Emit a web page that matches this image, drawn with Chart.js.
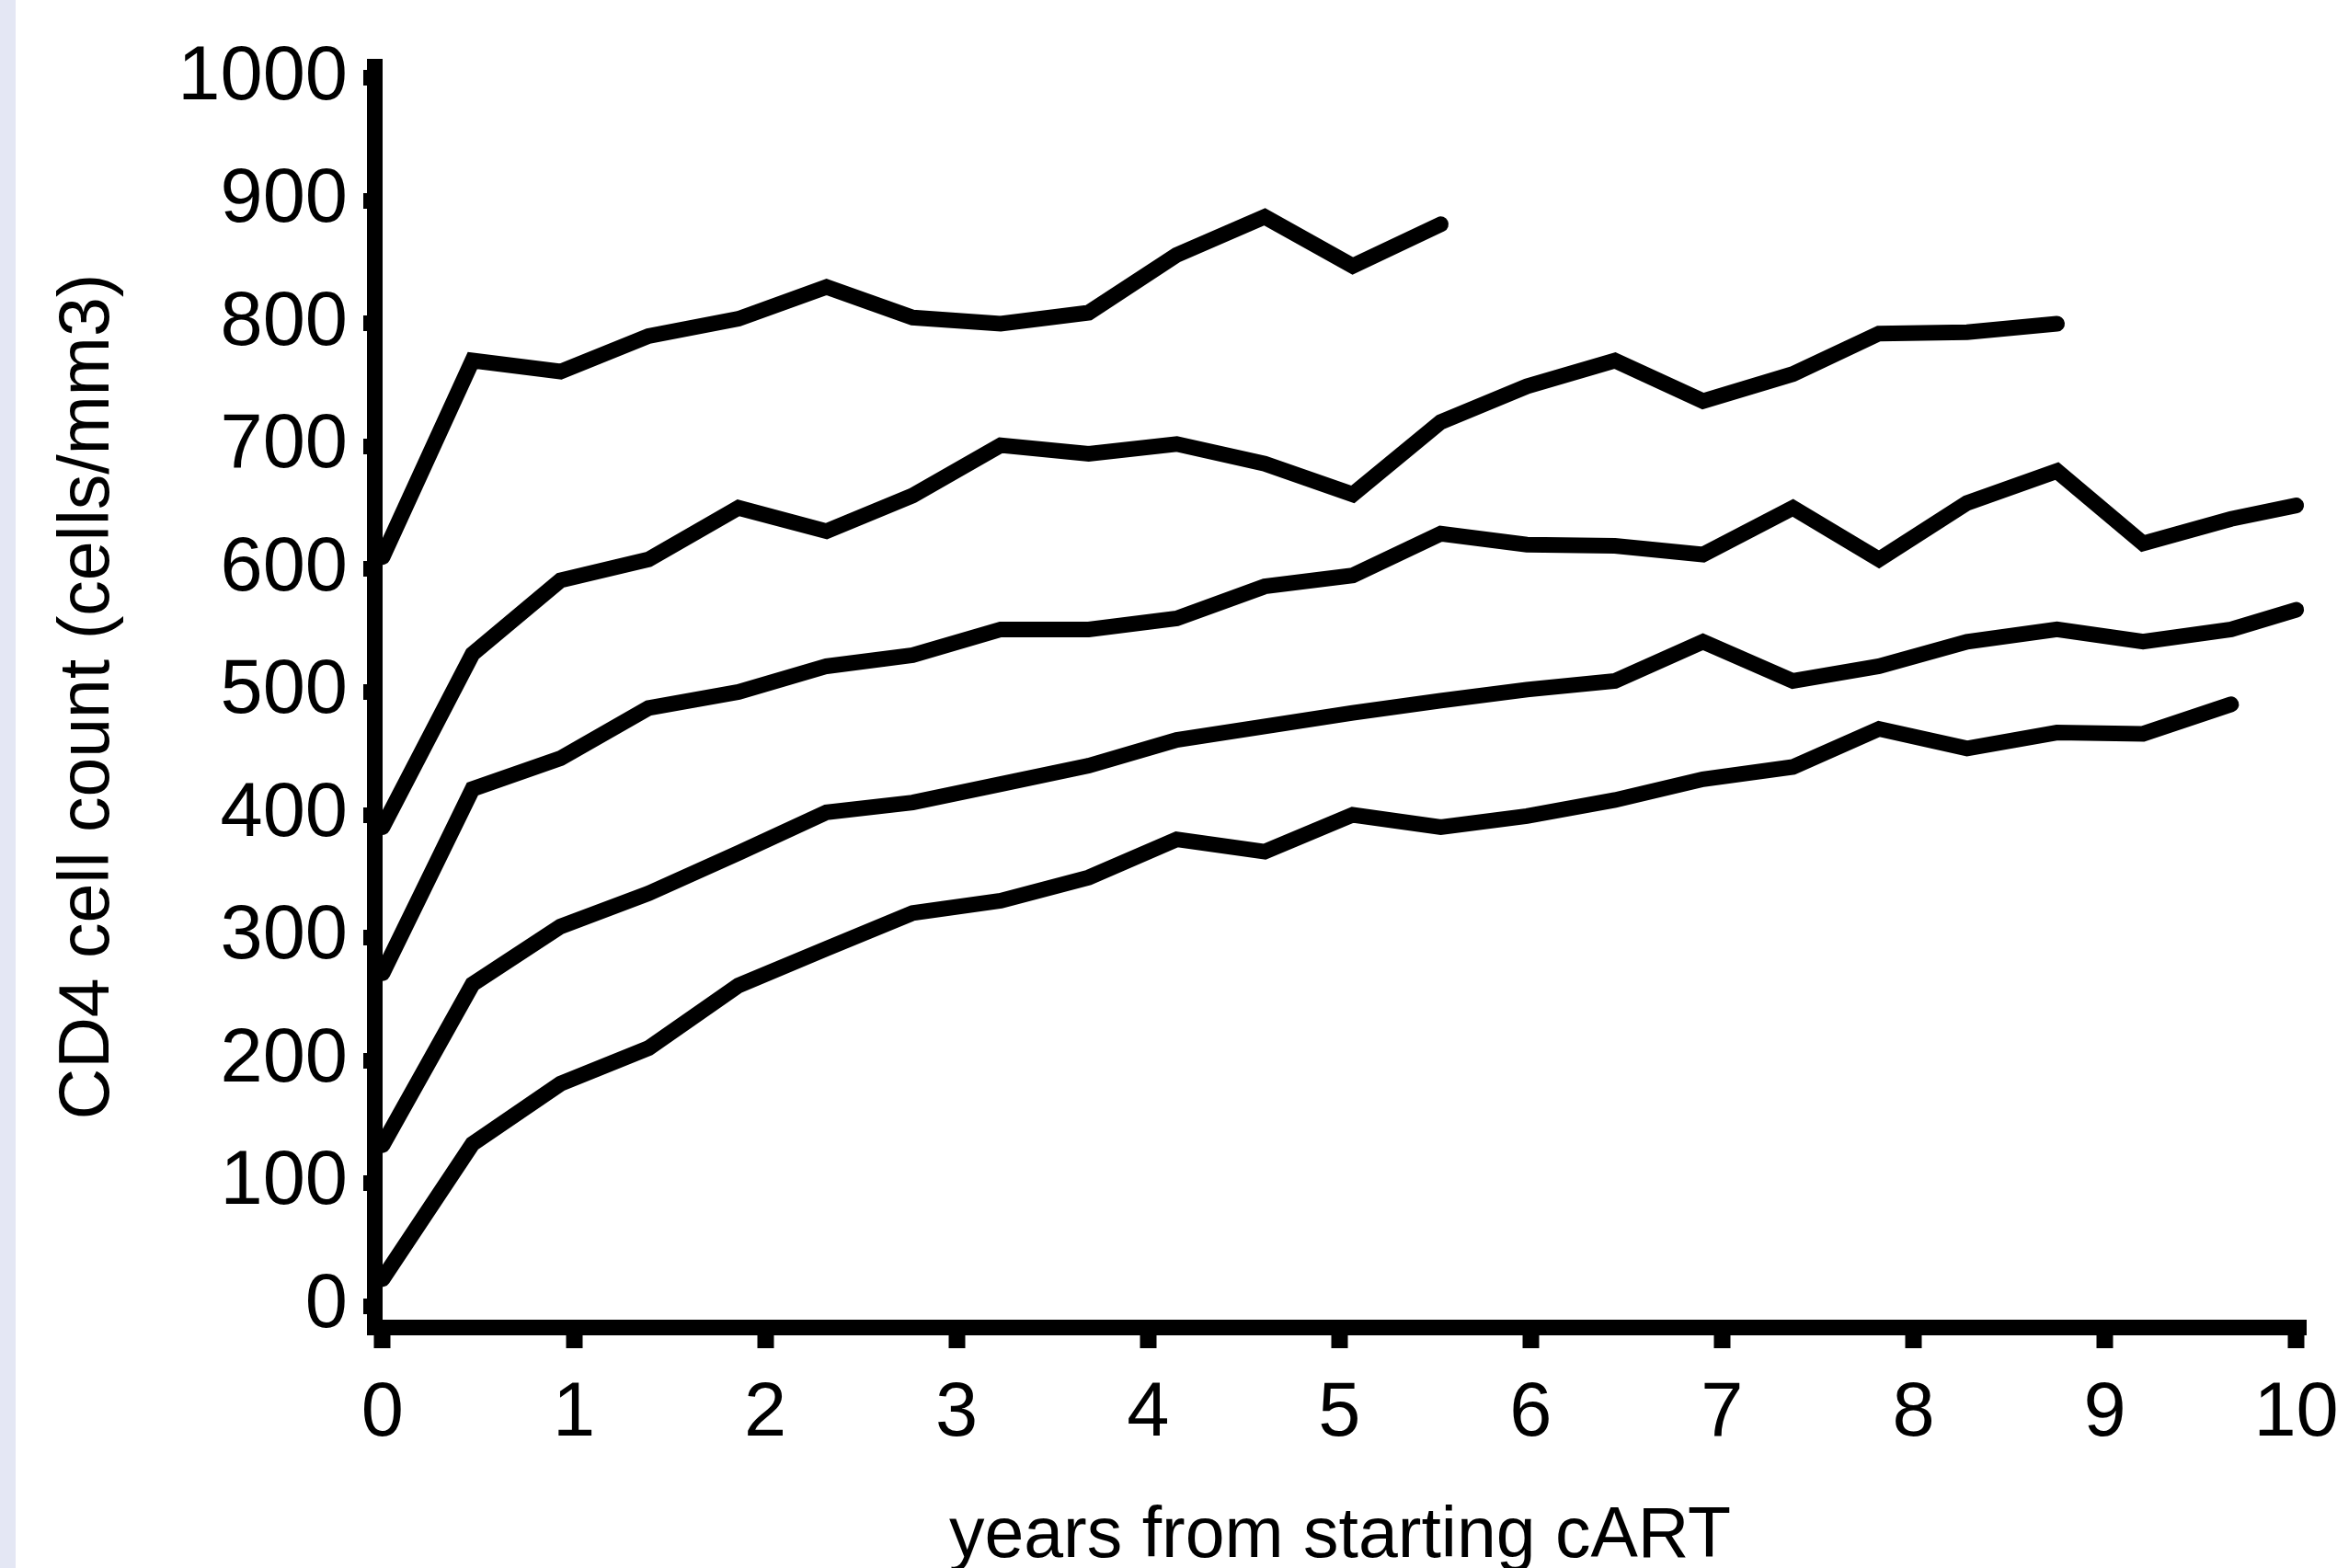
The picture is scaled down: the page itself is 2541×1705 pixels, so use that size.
<!DOCTYPE html>
<html>
<head>
<meta charset="utf-8">
<title>CD4 cell count after starting cART</title>
<script src="https://cdn.jsdelivr.net/npm/chart.js@4.4.1/dist/chart.umd.min.js"></script>
<style>
  html, body { margin: 0; padding: 0; background: #fff; }
  #wrap { position: relative; width: 2541px; height: 1705px; }
  #strip { position: absolute; left: 0; top: 0; width: 17px; height: 1705px; background: #e4e7f4; }
</style>
</head>
<body>
<div id="wrap">
  <canvas id="cd4Chart" width="2541" height="1705"></canvas>
  <div id="strip"></div>
</div>
<script>
// visit times (years from starting cART), shared by all groups
const years = [0, 0.47, 0.93, 1.39, 1.86, 2.32, 2.77, 3.23, 3.69, 4.15, 4.61, 5.07,
  5.53, 5.98, 6.44, 6.90, 7.37, 7.82, 8.28, 8.75, 9.20, 9.66, 10.0];

// median CD4 count per group, by baseline stratum
const group1 = [610, 770, 761, 790, 804, 830, 805, 800, 809, 856, 887, 847, 881];
const group2 = [390, 531, 591, 608, 650, 631, 660, 701, 694, 702, 686, 661, 720,
  749, 770, 737, 759, 792, 793, 800];
const group3 = [271, 421, 446, 487, 500, 521, 530, 551, 551, 560, 586, 595, 629,
  620, 619, 612, 650, 608, 654, 680, 621, 641, 652];
const group4 = [131, 262, 309, 336, 369, 402, 410, 425, 440, 461, 472, 483, 493,
  502, 509, 541, 509, 521, 541, 551, 541, 551, 567];
const group5 = [22, 132, 181, 210, 261, 291, 320, 330, 349, 380, 370, 400, 390,
  399, 412, 429, 439, 470, 454, 467, 466, 490];

const xTicks = [0, 1, 2, 3, 4, 5, 6, 7, 8, 9, 10];
const yTicks = [0, 100, 200, 300, 400, 500, 600, 700, 800, 900, 1000];

Chart.defaults.font.family = '"Liberation Sans", Arial, sans-serif';
Chart.defaults.color = "#000";

function toPoints(values) {
  return values.map((v, i) => ({ x: years[i], y: v }));
}

function lineSet(values) {
  return {
    data: toPoints(values),
    borderColor: "#000",
    borderWidth: 17,
    borderCapStyle: "round",
    borderJoinStyle: "miter",
    pointRadius: 0,
    tension: 0,
    fill: false,
    clip: false,
  };
}

// keep the plot box where the original has it, labels may overflow
function noPad(s) {
  s.paddingLeft = 0;
  s.paddingRight = 0;
  s.paddingTop = 0;
  s.paddingBottom = 0;
}

new Chart(document.getElementById("cd4Chart"), {
  type: "line",
  data: {
    datasets: [group1, group2, group3, group4, group5].map(lineSet),
  },
  options: {
    responsive: false,
    devicePixelRatio: 1,
    animation: false,
    layout: { padding: { left: 0, top: 72, right: 34, bottom: 0 } },
    plugins: {
      legend: { display: false },
      tooltip: { enabled: false },
    },
    scales: {
      x: {
        type: "linear",
        min: -0.043,
        max: 10.05,
        afterBuildTicks: (s) => { s.ticks = xTicks.map((v) => ({ value: v })); },
        afterFit: (s) => { s.height = 262; noPad(s); },
        border: { display: true, width: 17, color: "#000" },
        grid: { drawOnChartArea: false, drawTicks: true, tickLength: 23, tickWidth: 18, tickColor: "#000" },
        ticks: {
          padding: 22,
          font: { size: 83 },
          maxRotation: 0,
          autoSkip: false,
          callback: (v) => String(v),
        },
        title: {
          display: true,
          text: "years from starting cART",
          font: { size: 77, lineHeight: 0.8 },
          padding: { top: 0, bottom: 2 },
        },
      },
      y: {
        type: "linear",
        min: -17.2,
        max: 1009.7,
        afterBuildTicks: (s) => { s.ticks = yTicks.map((v) => ({ value: v })); },
        afterFit: (s) => { s.width = 407; noPad(s); },
        border: { display: true, width: 17, color: "#000" },
        grid: { drawOnChartArea: false, drawTicks: true, tickLength: 12, tickWidth: 17, tickColor: "#000" },
        ticks: { padding: 17, font: { size: 83 }, callback: (v) => String(v) },
        title: {
          display: true,
          text: "CD4 cell count (cells/mm3)",
          font: { size: 77, lineHeight: 0.8 },
          padding: { top: 66, bottom: 0 },
        },
      },
    },
  },
});
</script>
</body>
</html>
